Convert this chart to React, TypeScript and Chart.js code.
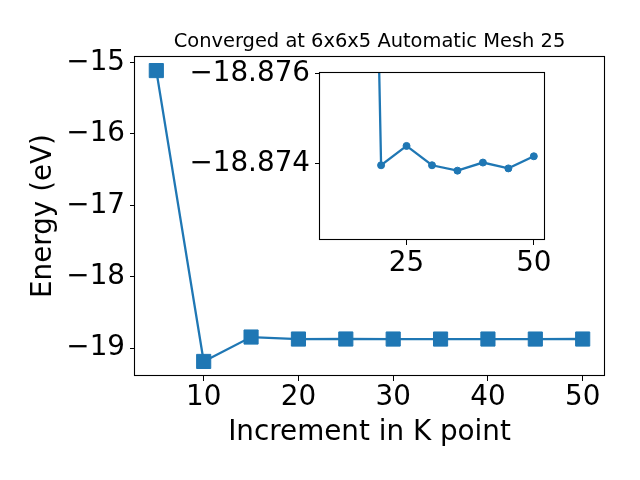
import React, { useEffect, useRef } from "react";
import { Chart, registerables } from "chart.js";

Chart.register(...registerables);

// ---- data ----
const K_POINTS = [5, 10, 15, 20, 25, 30, 35, 40, 45, 50];
const ENERGIES = [
  -15.112, -19.188, -18.846, -18.87404, -18.87361, -18.87404, -18.87416, -18.87398, -18.87411, -18.87384,
];
const INSET_K_POINTS = K_POINTS.slice(2);
const INSET_ENERGIES = ENERGIES.slice(2);

const MAIN_X_TICKS = [10, 20, 30, 40, 50];
const MAIN_Y_TICKS = [-19, -18, -17, -16, -15];
const INSET_X_TICKS = [25, 50];
const INSET_Y_TICKS = [-18.874, -18.872];
const INSET_Y_TICK_LABELS = ["−18.874", "−18.876"];

const TITLE = "Converged at 6x6x5 Automatic Mesh 25";
const X_LABEL = "Increment in K point";
const Y_LABEL = "Energy (eV)";

// ---- style ----
const BLUE = "#1f77b4";
const FAMILY = "'DejaVu Sans', sans-serif";
const BIG = 27.8;
const fmt = (v: number) => (v < 0 ? "−" + Math.abs(v) : String(v));

const noPad = (s: any) => {
  s.paddingTop = 0;
  s.paddingBottom = 0;
  s.paddingLeft = 0;
  s.paddingRight = 0;
};

const boxPlugin = {
  id: "boxFrame",
  beforeDraw(chart: any, _a: any, opts: any) {
    if (!opts || !opts.fill) return;
    const { left, top, right, bottom } = chart.chartArea;
    const ctx = chart.ctx;
    ctx.save();
    ctx.fillStyle = opts.fill;
    ctx.fillRect(left, top, right - left, bottom - top);
    ctx.restore();
  },
  afterDraw(chart: any) {
    const { left, top, right, bottom } = chart.chartArea;
    const ctx = chart.ctx;
    ctx.save();
    ctx.strokeStyle = "#000";
    ctx.lineWidth = 1.1;
    const l = Math.round(left) - 0.5;
    const t = Math.round(top) + 0.5;
    const r = Math.round(right) + 0.5;
    const b = Math.round(bottom) - 0.5;
    ctx.strokeRect(l, t, r - l, b - t);
    ctx.restore();
  },
};

const tickGrid = {
  drawOnChartArea: false,
  drawTicks: true,
  tickLength: 5,
  color: "#000",
  tickColor: "#000",
  lineWidth: 1,
};

export default function App() {
  const mainRef = useRef<HTMLCanvasElement | null>(null);
  const insetRef = useRef<HTMLCanvasElement | null>(null);

  useEffect(() => {
    const font = { family: FAMILY, size: BIG };
    const main = new Chart(mainRef.current as HTMLCanvasElement, {
      type: "line",
      data: {
        datasets: [
          {
            data: K_POINTS.map((k, i) => ({ x: k, y: ENERGIES[i] })),
            borderColor: BLUE,
            backgroundColor: BLUE,
            borderWidth: 2.3,
            pointStyle: "rect",
            pointRadius: 10,
            pointBorderWidth: 1,
            pointBackgroundColor: BLUE,
            pointBorderColor: BLUE,
            tension: 0,
          },
        ],
      },
      options: {
        responsive: false,
        animation: false,
        events: [],
        layout: { padding: { top: 0, right: 36, left: 0, bottom: 0 } },
        plugins: {
          legend: { display: false },
          tooltip: { enabled: false },
          title: {
            display: true,
            text: TITLE,
            fullSize: false,
            color: "#000",
            font: { family: FAMILY, size: 19.44, weight: "normal" },
            padding: { top: 30.4, bottom: 2.3 },
          },
        } as any,
        scales: {
          x: {
            type: "linear",
            min: 2.75,
            max: 52.25,
            afterBuildTicks: (s: any) => {
              s.ticks = MAIN_X_TICKS.map((v) => ({ value: v }));
            },
            afterFit: (s: any) => {
              noPad(s);
              s.height = 104;
            },
            ticks: { font, color: "#000", padding: 0, maxRotation: 0, autoSkip: false, callback: (v: any) => fmt(v) },
            grid: tickGrid,
            border: { display: false },
            title: { display: true, text: X_LABEL, color: "#000", font, padding: { top: 0, bottom: 31 } },
          },
          y: {
            type: "linear",
            min: -19.392,
            max: -14.908,
            afterBuildTicks: (s: any) => {
              s.ticks = MAIN_Y_TICKS.map((v) => ({ value: v }));
            },
            afterFit: (s: any) => {
              noPad(s);
              s.width = 135;
            },
            ticks: { font, color: "#000", padding: 5, autoSkip: false, callback: (v: any) => fmt(v) },
            grid: tickGrid,
            border: { display: false },
            title: { display: true, text: Y_LABEL, color: "#000", font, padding: { top: 27, bottom: 0 } },
          },
        } as any,
      },
      plugins: [boxPlugin],
    });

    const inset = new Chart(insetRef.current as HTMLCanvasElement, {
      type: "line",
      data: {
        datasets: [
          {
            data: INSET_K_POINTS.map((k, i) => ({ x: k, y: INSET_ENERGIES[i] })),
            borderColor: BLUE,
            backgroundColor: BLUE,
            borderWidth: 2.3,
            pointStyle: "circle",
            pointRadius: 3.5,
            pointBorderWidth: 1,
            pointBackgroundColor: BLUE,
            pointBorderColor: BLUE,
            tension: 0,
          },
        ],
      },
      options: {
        responsive: false,
        animation: false,
        events: [],
        layout: { padding: { top: 17, right: 16, left: 0, bottom: 0 } },
        plugins: {
          legend: { display: false },
          tooltip: { enabled: false },
          boxFrame: { fill: "#ffffff" },
        } as any,
        scales: {
          x: {
            type: "linear",
            min: 8,
            max: 52,
            afterBuildTicks: (s: any) => {
              s.ticks = INSET_X_TICKS.map((v) => ({ value: v }));
            },
            afterFit: (s: any) => {
              noPad(s);
              s.height = 45;
            },
            ticks: { font, color: "#000", padding: 2, maxRotation: 0, autoSkip: false, callback: (v: any) => fmt(v) },
            grid: tickGrid,
            border: { display: false },
          },
          y: {
            type: "linear",
            min: -18.875704,
            max: -18.871964,
            afterBuildTicks: (s: any) => {
              s.ticks = INSET_Y_TICKS.map((v) => ({ value: v }));
            },
            afterFit: (s: any) => {
              noPad(s);
              s.width = 160;
            },
            ticks: {
              font,
              color: "#000",
              padding: 5,
              autoSkip: false,
              callback: (_v: any, i: number) => INSET_Y_TICK_LABELS[i],
            },
            grid: tickGrid,
            border: { display: false },
          },
        } as any,
      },
      plugins: [boxPlugin],
    });

    return () => {
      main.destroy();
      inset.destroy();
    };
  }, []);

  return (
    <div style={{ position: "fixed", left: 0, top: 0, width: 640, height: 480, background: "#fff" }}>
      <canvas ref={mainRef} width={640} height={480} style={{ position: "absolute", left: 0, top: 0, width: 640, height: 480 }} />
      <canvas ref={insetRef} width={400} height={230} style={{ position: "absolute", left: 160, top: 55, width: 400, height: 230 }} />
    </div>
  );
}
